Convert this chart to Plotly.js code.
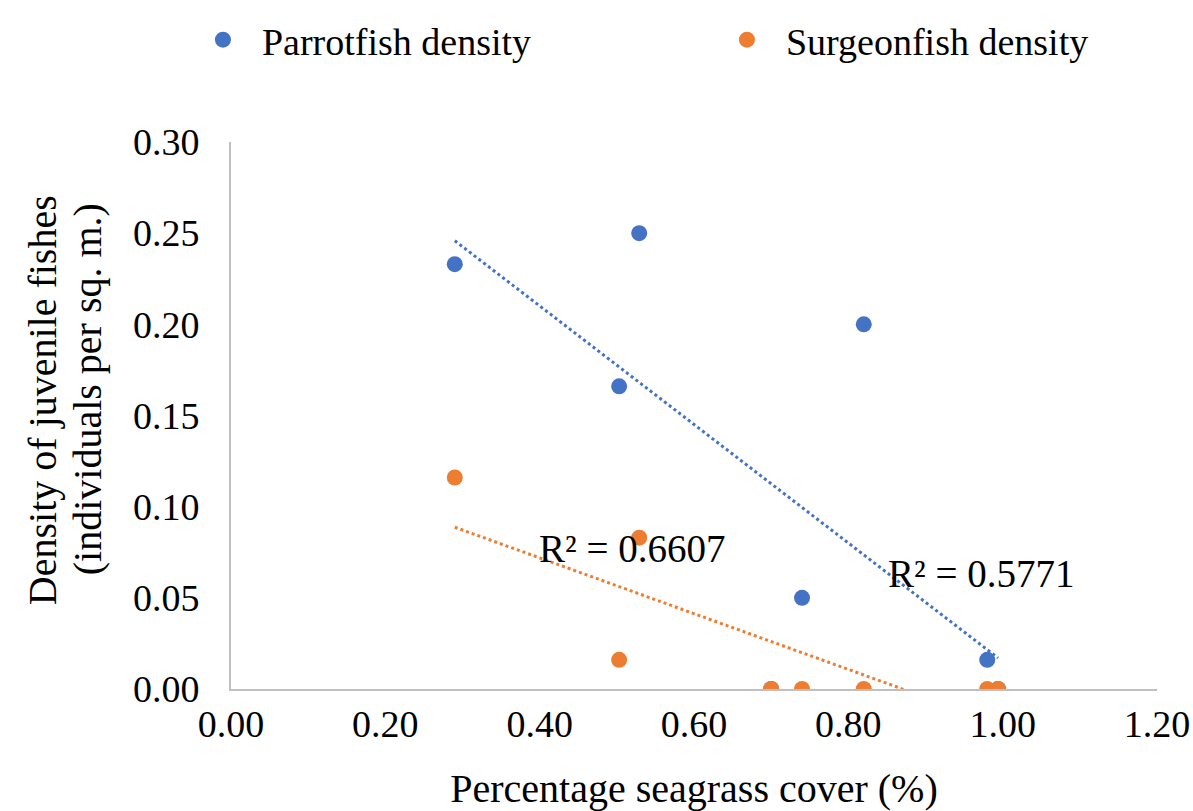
<!DOCTYPE html>
<html><head><meta charset="utf-8">
<script src="https://cdn.plot.ly/plotly-3.0.1.min.js"></script>
<style>html,body{margin:0;padding:0;background:#fff}#c{width:1193px;height:811px}</style>
</head><body><div id="c"></div>
<script>
const seagrassCover = [0.29, 0.529, 0.503, 0.70, 0.74, 0.82, 0.98, 0.994];
const parrotfishDensity = [0.233, 0.250, 0.166, 0.000, 0.050, 0.200, 0.016, 0.000];
const surgeonfishDensity = [0.116, 0.083, 0.016, 0.000, 0.000, 0.000, 0.000, 0.000];
const seriesNames = ["Parrotfish density", "Surgeonfish density"];
const r2Labels = ["R² = 0.5771", "R² = 0.6607"];
const yTitleLines = ["Density of juvenile fishes", "(individuals per sq. m.)"];
const xTitle = "Percentage seagrass cover (%)";
const xTicks = [0, 0.2, 0.4, 0.6, 0.8, 1.0, 1.2];
const yTicks = [0, 0.05, 0.10, 0.15, 0.20, 0.25, 0.30];

const blue = "#4472C4", orange = "#ED7D31";
const FONT = "Liberation Serif, Times New Roman, serif";

function fit(x, y) {
  const n = x.length;
  const mx = x.reduce((a,b)=>a+b,0)/n, my = y.reduce((a,b)=>a+b,0)/n;
  let sxy=0, sxx=0;
  for (let i=0;i<n;i++){ sxy += (x[i]-mx)*(y[i]-my); sxx += (x[i]-mx)**2; }
  const m = sxy/sxx, b = my - m*mx;
  const x0 = Math.min(...x), x1 = Math.max(...x);
  return {x:[x0,x1], y:[m*x0+b, m*x1+b]};
}
const fp = fit(seagrassCover, parrotfishDensity);
const fs = fit(seagrassCover, surgeonfishDensity);

const traces = [
  {x: fp.x, y: fp.y, mode:"lines", line:{color:blue, width:3, dash:"dot"}, showlegend:false, hoverinfo:"skip"},
  {x: fs.x, y: fs.y, mode:"lines", line:{color:orange, width:3, dash:"dot"}, showlegend:false, hoverinfo:"skip"},
  {x: seagrassCover, y: parrotfishDensity, mode:"markers", name: seriesNames[0], marker:{color:blue, size:16}},
  {x: seagrassCover, y: surgeonfishDensity, mode:"markers", name: seriesNames[1], marker:{color:orange, size:16}}
];

const layout = {
  width:1193, height:811,
  paper_bgcolor:"#fff", plot_bgcolor:"#fff",
  margin:{l:231, r:36, t:142, b:122, autoexpand:false},
  font:{family:FONT, size:38, color:"#000"},
  showlegend:true,
  legend:{orientation:"h", x:-0.0508, xanchor:"left", y:1.1865, yanchor:"middle", xref:"paper", yref:"paper",
          font:{family:FONT, size:38}, entrywidth:441, itemwidth:68},
  xaxis:{range:[0,1.2], tickvals:xTicks, tickformat:".2f", showgrid:false, zeroline:false,
         showline:true, linecolor:"#bfbfbf", linewidth:2, ticks:"", ticklabelstandoff:0,
         tickfont:{family:FONT, size:38},
         title:{text:xTitle, font:{family:FONT, size:40}, standoff:32}},
  yaxis:{range:[0,0.30], tickvals:yTicks, tickformat:".2f", showgrid:false, zeroline:false,
         showline:true, linecolor:"#bfbfbf", linewidth:2, ticks:"", ticklabelstandoff:22,
         tickfont:{family:FONT, size:38}},
  annotations:[
    {x:0.972, y:0.0636, xref:"x", yref:"y", text:r2Labels[0], showarrow:false, font:{family:FONT, size:39}},
    {x:0.520, y:0.0773, xref:"x", yref:"y", text:r2Labels[1], showarrow:false, font:{family:FONT, size:39}},
    {x:-0.2041, y:0.528, xref:"paper", yref:"paper", xanchor:"center", yanchor:"middle", text:yTitleLines[0], textangle:-90, showarrow:false, font:{family:FONT, size:40}},
    {x:-0.1555, y:0.548, xref:"paper", yref:"paper", xanchor:"center", yanchor:"middle", text:yTitleLines[1], textangle:-90, showarrow:false, font:{family:FONT, size:40}}
  ]
};
Plotly.newPlot("c", traces, layout, {displayModeBar:false, staticPlot:true});
</script></body></html>
